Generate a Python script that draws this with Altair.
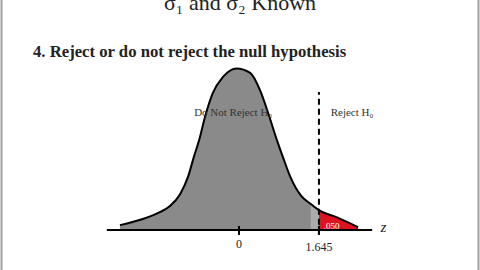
import altair as alt
import pandas as pd

# Standard normal curve outline (z, density) for the test statistic
curve_z = [-2.45, -1.98, -1.63, -1.42, -1.21, -1.05, -0.93, -0.82, -0.70, -0.54,
           -0.33, -0.05, 0.23, 0.43, 0.60, 0.78, 0.91, 1.05, 1.28, 1.48, 1.645,
           2.04, 2.45]
curve_d = [0.012, 0.027, 0.044, 0.059, 0.089, 0.131, 0.180, 0.222, 0.279, 0.338,
           0.378, 0.399, 0.388, 0.346, 0.289, 0.222, 0.178, 0.133, 0.084, 0.064,
           0.049, 0.030, 0.007]

critical_z = 1.645
alpha_label = ".050"
tick_values = [0, 1.645]
tick_labels = ["0", "1.645"]

curve = pd.DataFrame({"z": curve_z, "d": curve_d})

X_DOMAIN = [-4.918, 4.959]
Y_DOMAIN = [-0.0988, 0.568]
xs = alt.Scale(domain=X_DOMAIN)
ys = alt.Scale(domain=Y_DOMAIN)


def xenc(field="z"):
    return alt.X(f"{field}:Q", scale=xs, axis=None)


def yenc(field="d"):
    return alt.Y(f"{field}:Q", scale=ys, axis=None)


base = alt.Chart(curve)

gray_area = base.transform_filter(alt.datum.z <= 1.48).mark_area(
    color="#8a8a8a", interpolate="monotone"
).encode(x=xenc(), y=yenc(), y2=alt.datum(0))

light_area = base.transform_filter(
    (alt.datum.z >= 1.48) & (alt.datum.z <= critical_z)
).mark_area(color="#ababab", interpolate="monotone").encode(
    x=xenc(), y=yenc(), y2=alt.datum(0)
)

red_area = base.transform_filter(alt.datum.z >= critical_z).mark_area(
    color="#dc1420", interpolate="monotone"
).encode(x=xenc(), y=yenc(), y2=alt.datum(0))

outline = base.mark_line(color="#000000", strokeWidth=2, interpolate="monotone").encode(
    x=xenc(), y=yenc()
)

# Horizontal z axis
axis_df = pd.DataFrame({"z": [-2.72], "z2": [2.74], "d": [0.0]})
axis_line = alt.Chart(axis_df).mark_rule(color="#000000", strokeWidth=2).encode(
    x=xenc(), x2="z2:Q", y=yenc()
)

# Tick marks at 0 and at the critical value
tick_df = pd.DataFrame({"z": tick_values, "lo": [-0.0123] * 2, "hi": [0.0099] * 2})
ticks = alt.Chart(tick_df).mark_rule(color="#000000", strokeWidth=2).encode(
    x=xenc(), y=yenc("lo"), y2="hi:Q"
)

# Dashed boundary of the rejection region
crit_df = pd.DataFrame({"z": [critical_z], "lo": [-0.012], "hi": [0.3407]})
crit_line = alt.Chart(crit_df).mark_rule(
    color="#000000", strokeWidth=2, strokeDash=[6, 4]
).encode(x=xenc(), y=yenc("lo"), y2="hi:Q")

# Slide frame edges
frame_df = pd.DataFrame({"z": [-4.887, 4.928], "lo": [Y_DOMAIN[0]] * 2, "hi": [Y_DOMAIN[1]] * 2})
frame = alt.Chart(frame_df).mark_rule(color="#a0a0a0", strokeWidth=2).encode(
    x=xenc(), y=yenc("lo"), y2="hi:Q"
)

SERIF = "Liberation Serif"


def label(text, z, d, size, align="center", baseline="alphabetic",
          color="#222222", style="normal", weight="normal"):
    df = pd.DataFrame({"z": [z], "d": [d], "t": [text]})
    return alt.Chart(df).mark_text(
        font=SERIF, fontSize=size, align=align, baseline=baseline,
        color=color, fontStyle=style, fontWeight=weight
    ).encode(x=xenc(), y=yenc(), text="t:N")


texts = [
    label("σ₁ and σ₂ Known", 0.02, 0.5444, 22),
    label("4.  Reject or do not reject the null hypothesis", -4.239, 0.427, 16.7,
          align="left", weight="bold"),
    label("Do Not Reject H₀", -0.12, 0.2815, 11, color="#333333"),
    label("Reject H₀", 2.325, 0.2815, 11, color="#333333"),
    label(tick_labels[0], tick_values[0], -0.0445, 12),
    label(tick_labels[1], tick_values[1], -0.052, 12),
    label("z", 2.97, -0.005, 15, style="italic"),
    label(alpha_label, 1.905, 0.0035, 9, color="#ffffff"),
]

chart = alt.layer(
    frame, gray_area, light_area, red_area, outline, axis_line, ticks, crit_line, *texts
).properties(
    width=480, height=270, padding=0, autosize=alt.AutoSizeParams(type="none"),
    background="#ffffff"
).configure_view(stroke=None)

chart.save("out.html", embed_options={"renderer": "svg", "actions": False})
